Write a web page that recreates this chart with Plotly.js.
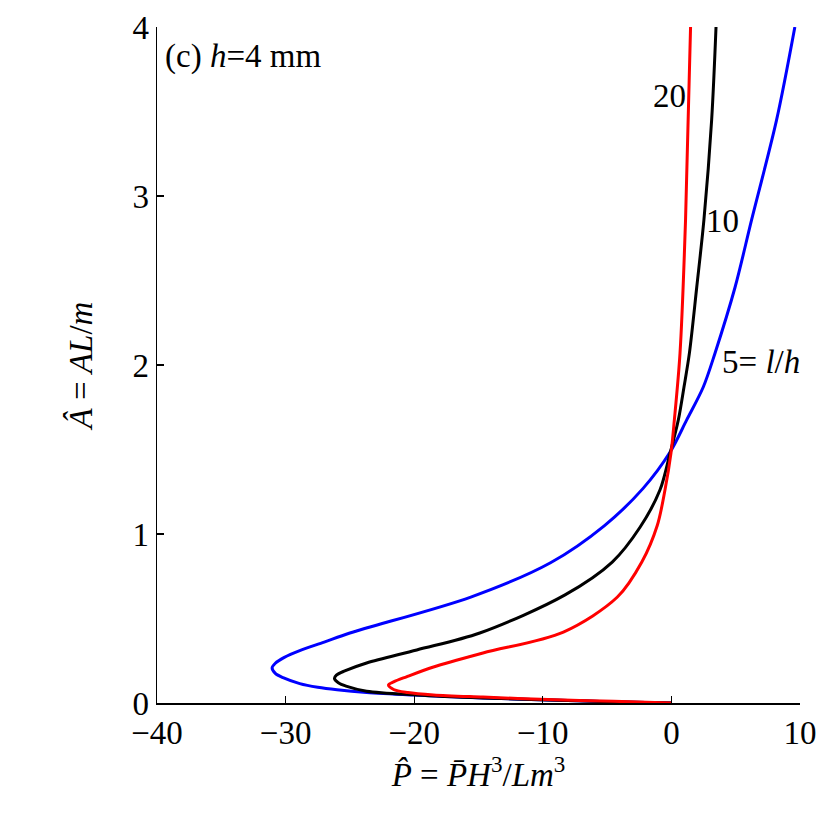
<!DOCTYPE html>
<html>
<head>
<meta charset="utf-8">
<script src="https://cdn.plot.ly/plotly-3.0.1.min.js"></script>
<style>
  html, body { margin:0; padding:0; background:#fff; }
  #chart { width:830px; height:830px; }
</style>
</head>
<body>
<div id="chart"></div>
<script>
// curves, traced from the top (A=4) down round the nose to the origin
var blueX  = [9.6, 8.18, 6.24, 4.95, 3.39, 2.48, 1.19, -0.1, -2.2, -5.2, -9.4, -15.6, -25, -27, -28.9, -30.1, -30.8, -31.05, -30.8, -30.2, -28.9, -27.5, -26, -23.7, -20, -14.6, -9.6, -5, 0];
var blueY  = [4, 3.45, 2.86, 2.46, 2.07, 1.87, 1.675, 1.485, 1.27, 1.05, 0.83, 0.627, 0.414, 0.36, 0.31, 0.27, 0.235, 0.207, 0.175, 0.15, 0.115, 0.093, 0.078, 0.062, 0.047, 0.03, 0.018, 0.008, 0];

var blackX = [3.47, 3.13, 2.53, 1.97, 1.4, 0.98, 0.54, -0.1, -0.89, -2.44, -4.6, -8.27, -14.9, -19.8, -23.7, -25.4, -26.05, -26.2, -25.9, -25.3, -23.7, -19.8, -14.6, -9.6, -5, 0];
var blackY = [4, 3.45, 2.86, 2.46, 2.07, 1.87, 1.675, 1.48, 1.26, 1.04, 0.834, 0.64, 0.414, 0.314, 0.237, 0.19, 0.165, 0.145, 0.12, 0.1, 0.07, 0.048, 0.03, 0.018, 0.008, 0];

var redX   = [1.49, 1.1, 0.67, 0.23, -0.03, -0.5, -1.1, -2.3, -4.2, -8.4, -14.65, -18.5, -20.6, -21.6, -22, -21.6, -20.5, -18.5, -14.65, -9.6, -4.5, 0];
var redY   = [4, 2.86, 2.07, 1.675, 1.48, 1.26, 1.05, 0.834, 0.627, 0.42, 0.296, 0.213, 0.155, 0.125, 0.107, 0.08, 0.062, 0.048, 0.035, 0.02, 0.01, 0];

var xTicks = [-40, -30, -20, -10, 0, 10];
var yTicks = [0, 1, 2, 3, 4];

var serif = "Liberation Serif, Times New Roman, serif";
var fs = 33;

function curve(x, y, col) {
  return {x:x, y:y, type:"scatter", mode:"lines", hoverinfo:"skip",
    line:{color:col, width:3, shape:"spline", smoothing:0.9}};
}

var data = [curve(blueX, blueY, "#0000ff"), curve(blackX, blackY, "#000000"), curve(redX, redY, "#ff0000")];

var axisBase = {showline:true, linecolor:"#000", linewidth:1.5, showgrid:false, zeroline:false,
  ticks:"inside", ticklen:7, tickwidth:1.3, tickcolor:"#000",
  tickfont:{family:serif, size:fs, color:"#000"}, mirror:false};

var layout = {
  width:830, height:830,
  margin:{l:157, r:30, t:27, b:127},
  paper_bgcolor:"#fff", plot_bgcolor:"#fff",
  showlegend:false,
  font:{family:serif, color:"#000"},
  xaxis:Object.assign({}, axisBase, {range:[-40, 10], tickvals:xTicks,
    title:{text:"<i>P̂</i> = <i>P̄H</i><sup>3</sup>/<i>Lm</i><sup>3</sup>", font:{family:serif, size:fs}, standoff:10}}),
  yaxis:Object.assign({}, axisBase, {range:[0, 4], tickvals:yTicks,
    title:{text:"<i>Â</i> = <i>AL</i>/<i>m</i>", font:{family:serif, size:fs}, standoff:30}}),
  annotations:[
    {xref:"paper", yref:"paper", x:0.009, y:0.957, xanchor:"left", yanchor:"middle", showarrow:false,
      text:"(c) <i>h</i>=4 mm", font:{family:serif, size:fs, color:"#000"}},
    {x:-0.11, y:3.59, xanchor:"center", yanchor:"middle", showarrow:false,
      text:"20", font:{family:serif, size:fs, color:"#000"}},
    {x:4.01, y:2.85, xanchor:"center", yanchor:"middle", showarrow:false,
      text:"10", font:{family:serif, size:fs, color:"#000"}},
    {x:3.78, y:2.02, xanchor:"left", yanchor:"middle", showarrow:false,
      text:"5= <i>l</i>/<i>h</i>", font:{family:serif, size:fs, color:"#000"}}
  ]
};

Plotly.newPlot("chart", data, layout, {displayModeBar:false, staticPlot:true});
</script>
</body>
</html>
